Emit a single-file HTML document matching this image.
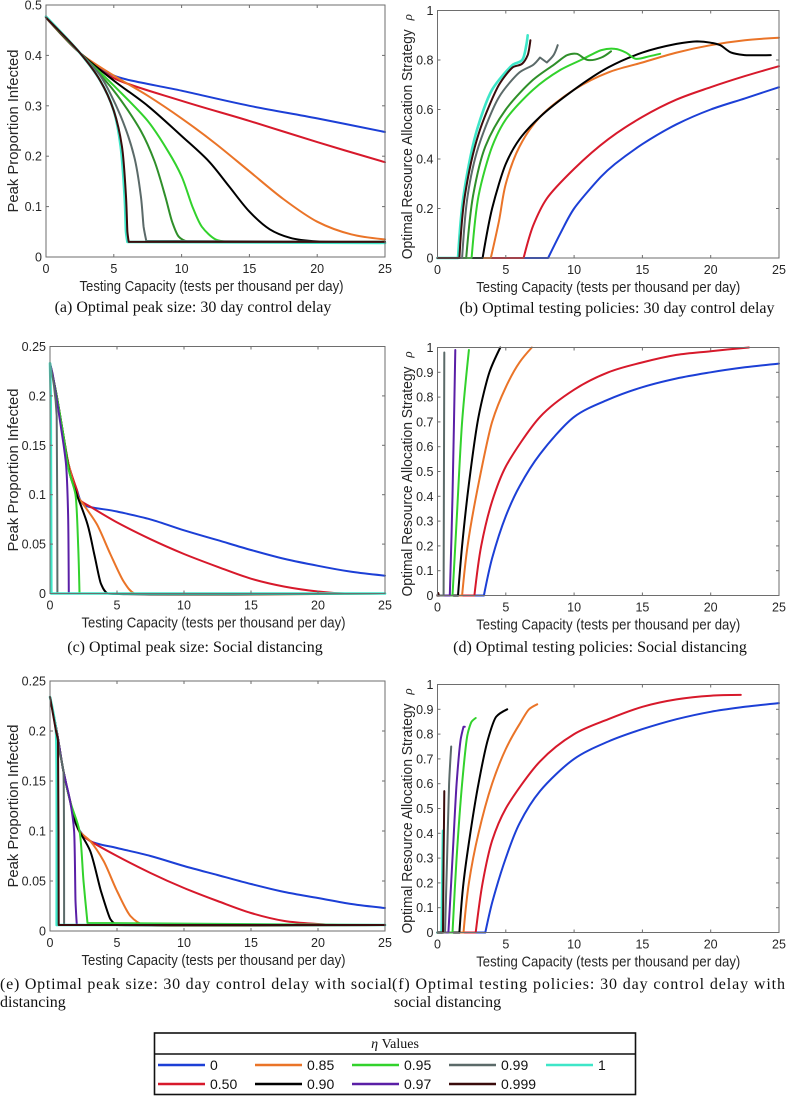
<!DOCTYPE html>
<html><head><meta charset="utf-8"><style>
html,body{margin:0;padding:0;background:#fff;}
svg{display:block;}
.tick{font-family:"Liberation Sans",sans-serif;font-size:12.5px;fill:#262626;}
.axt{font-family:"Liberation Sans",sans-serif;font-size:14.5px;fill:#262626;}
.cap{font-family:"Liberation Serif",serif;font-size:16px;fill:#111;}
.leg{font-family:"Liberation Sans",sans-serif;font-size:14px;fill:#111;}
</style></head><body>
<svg id="fig" width="787" height="1096" viewBox="0 0 787 1096" xmlns="http://www.w3.org/2000/svg"></svg>
<script>
// ---------- DATA ----------
const xTicks = [0,5,10,15,20,25];
const yTicksA = [0,0.1,0.2,0.3,0.4,0.5];
const yTicksB = [0,0.2,0.4,0.6,0.8,1];
const yTicksC = [0,0.05,0.1,0.15,0.2,0.25];
const yTicksD = [0,0.1,0.2,0.3,0.4,0.5,0.6,0.7,0.8,0.9,1];
const etaLabels = ["0","0.50","0.85","0.90","0.95","0.97","0.99","0.999","1"];

// panel (a)
const a_eta0   = [[0,.475],[2.5,.405],[5,.36],[10,.33],[15,.30],[20,.275],[25,.248]];
const a_eta50  = [[0,.475],[2.5,.405],[5,.355],[10,.31],[15,.27],[20,.228],[25,.188]];
const a_eta85  = [[0,.475],[2.5,.405],[5,.36],[7.5,.32],[10,.275],[12.5,.225],[15,.17],[17.5,.115],[20,.07],[22.5,.045],[25,.035]];
const a_eta90  = [[0,.475],[2.5,.405],[5,.35],[7.5,.3],[10,.24],[12,.19],[13.5,.14],[15,.09],[16.5,.055],[18,.038],[20,.031],[25,.03]];
const a_eta95  = [[0,.475],[2.5,.405],[5,.34],[7.5,.27],[9,.21],[10,.16],[10.8,.1],[11.5,.06],[12.5,.035],[13.5,.03],[25,.03]];
const a_eta97  = [[0,.475],[2.5,.405],[5,.33],[7,.25],[8,.19],[8.8,.12],[9.3,.07],[9.8,.04],[10.5,.03],[25,.03]];
const a_eta99  = [[0,.475],[2.5,.405],[4,.36],[5.5,.28],[6.5,.2],[7,.12],[7.2,.06],[7.4,.032],[25,.03]];
const a_eta999 = [[0,.475],[2.5,.405],[4,.35],[5,.29],[5.6,.22],[5.9,.12],[6.0,.05],[6.1,.03],[25,.03]];
const a_eta1   = [[0,.477],[2.5,.405],[4,.35],[5,.29],[5.5,.22],[5.8,.12],[5.9,.05],[6,.03],[25,.028]];

// panel (b)
const b_eta0   = [[0,0],[8.1,0],[9,.1],[10,.2],[12,.33],[13,.38],[15,.46],[17.5,.54],[20,.6],[22.5,.645],[25,.69]];
const b_eta50  = [[0,0],[6.3,0],[7,.13],[8,.24],[10,.36],[12.5,.48],[15,.57],[17.5,.64],[20,.69],[22.5,.735],[25,.775]];
const b_eta85  = [[0,0],[3.9,0],[4.5,.15],[5,.3],[6,.45],[7.5,.57],[10,.68],[12.5,.75],[15,.79],[17.5,.83],[20,.86],[22.5,.88],[25,.89]];
const b_eta90  = [[0,0],[3.3,0],[4,.2],[5,.38],[6,.48],[7.5,.57],[10,.68],[12.5,.77],[15,.83],[17.5,.865],[19,.875],[20,.87],[20.7,.86],[21.5,.83],[22.5,.82],[24.4,.82]];
const b_eta95  = [[0,0],[2.5,0],[3,.25],[4,.45],[5,.56],[7,.68],[9,.76],[10.5,.8],[12,.84],[13,.845],[13.8,.83],[14.5,.805],[15.5,.815],[16.3,.825]];
const b_eta97  = [[0,0],[2.1,0],[2.6,.25],[3.5,.45],[5,.6],[7,.72],[8.5,.78],[9.5,.82],[10.2,.825],[11,.8],[12,.81],[12.7,.835]];
const b_eta99  = [[0,0],[1.8,0],[2.2,.25],[3,.45],[4.5,.65],[6,.75],[7,.78],[7.5,.81],[8,.79],[8.5,.82],[8.8,.86]];
const b_eta999 = [[0,0],[1.6,0],[2,.25],[3,.5],[4.5,.7],[5.5,.77],[6.2,.785],[6.6,.82],[6.8,.88]];
const b_eta1   = [[0,0],[1.5,0],[1.9,.25],[2.8,.5],[4,.68],[5.5,.78],[6.2,.8],[6.5,.86],[6.6,.9]];

// panel (c)
const c_eta0   = [[0,.233],[0.5,.2],[1,.16],[1.4,.13],[2,.105],[2.5,.09],[5,.083],[7.5,.075],[10,.064],[12.5,.054],[15,.044],[17.5,.035],[20,.028],[22.5,.022],[25,.018]];
const c_eta50  = [[0,.233],[0.5,.2],[1,.16],[1.4,.13],[2,.105],[2.2,.095],[3,.088],[5,.072],[7.5,.055],[10,.04],[12.5,.027],[15,.015],[17.5,.007],[20,.002],[22,0],[25,0]];
const c_eta85  = [[0,.233],[0.5,.2],[1,.16],[1.4,.13],[2,.1],[2.5,.09],[3.5,.07],[4.5,.04],[5.5,.012],[6.3,0],[25,0]];
const c_eta90  = [[0,.233],[0.5,.2],[1,.16],[1.5,.12],[2,.1],[2.8,.07],[3.3,.04],[3.8,.01],[4.3,0],[25,0]];
const c_eta95  = [[0,.233],[0.5,.2],[1,.16],[1.4,.125],[1.9,.1],[2.1,.05],[2.2,0],[25,0]];
const c_eta97  = [[0,.233],[0.2,.222],[0.8,.17],[1.2,.13],[1.35,.08],[1.4,0],[25,0]];
const c_eta99  = [[0,.233],[0.3,.21],[0.5,.18],[0.55,0],[25,0]];
const c_eta1   = [[0,.233],[0.05,.2],[0.1,0],[25,0]];

// panel (d)
const d_eta0   = [[0,0],[3.4,0],[4,.15],[5,.32],[6,.44],[7.5,.57],[10,.72],[12.5,.79],[15,.84],[17.5,.875],[20,.9],[22.5,.92],[25,.935]];
const d_eta50  = [[0,0],[2.7,0],[3.2,.2],[4,.38],[5,.52],[7.5,.72],[10,.83],[12.5,.9],[15,.94],[17.5,.97],[20,.985],[22.8,1]];
const d_eta85  = [[0,0],[1.8,0],[2.2,.2],[3,.45],[4,.7],[5,.84],[6,.94],[6.9,1]];
const d_eta90  = [[0,0],[1.5,0],[1.8,.2],[2.3,.45],[3,.72],[3.8,.9],[4.6,1]];
const d_eta95  = [[0,0],[1.1,0],[1.4,.3],[1.8,.7],[2.3,.99]];
const d_eta97  = [[0,0],[0.9,0],[1.1,.4],[1.3,.99]];
const d_eta99  = [[0,0],[0.45,0],[0.5,.98]];
const d_eta999 = [[0,0],[0.05,.01],[0.1,0]];

// panel (e)
const e_eta0   = [[0,.234],[0.5,.2],[1,.16],[1.5,.13],[2,.105],[3,.09],[5,.083],[7.5,.075],[10,.065],[12.5,.056],[15,.047],[17.5,.039],[20,.033],[22.5,.027],[25,.023]];
const e_eta50  = [[0,.234],[0.5,.2],[1,.16],[1.5,.13],[2,.105],[2.3,.097],[3,.09],[5,.075],[7.5,.058],[10,.043],[12.5,.03],[15,.018],[17.5,.01],[20,.007],[21.5,.006],[25,.006]];
const e_eta85  = [[0,.234],[0.5,.2],[1,.16],[1.5,.13],[2.2,.1],[3,.09],[4,.07],[5,.04],[6,.015],[7,.006],[25,.006]];
const e_eta90  = [[0,.234],[0.5,.2],[1,.16],[1.5,.13],[2,.105],[3,.08],[3.8,.04],[4.5,.012],[5,.006],[25,.006]];
const e_eta95  = [[0,.234],[0.5,.2],[1,.16],[1.5,.13],[2.2,.1],[2.5,.05],[2.8,.008],[25,.006]];
const e_eta97  = [[0,.234],[0.5,.2],[1,.16],[1.5,.13],[1.8,.1],[1.9,.03],[2,.006],[25,.006]];
const e_eta99  = [[0,.234],[0.5,.2],[0.7,.18],[1,.16],[1.05,.006],[25,.006]];
const e_eta999 = [[0,.234],[0.45,.2],[0.6,.19],[0.65,.006],[25,.006]];
const e_eta1   = [[0,.234],[0.45,.2],[0.5,.006],[25,.006]];

// panel (f)
const f_eta0   = [[0,0],[3.5,0],[4,.12],[5,.3],[6,.44],[7.5,.57],[10,.7],[12.5,.77],[15,.82],[17.5,.86],[20,.89],[22.5,.91],[25,.925]];
const f_eta50  = [[0,0],[2.8,0],[3.3,.2],[4,.37],[5,.5],[7.5,.69],[10,.8],[12.5,.86],[15,.91],[17.5,.94],[20,.955],[22.2,.958]];
const f_eta85  = [[0,0],[1.9,0],[2.3,.2],[3,.4],[4,.6],[5,.74],[6,.84],[6.7,.9],[7.3,.92]];
const f_eta90  = [[0,0],[1.6,0],[1.9,.2],[2.4,.4],[3,.6],[3.7,.78],[4.3,.87],[5.1,.9]];
const f_eta95  = [[0,0],[1.1,0],[1.4,.3],[1.8,.6],[2.2,.8],[2.5,.85],[2.8,.865]];
const f_eta97  = [[0,0],[0.8,0],[1.1,.3],[1.4,.6],[1.7,.78],[1.9,.83],[2,.83]];
const f_eta99  = [[0,0],[0.55,0],[0.7,.3],[0.85,.6],[1,.75]];
const f_eta999 = [[0,0],[0.4,0],[0.45,.3],[0.5,.57]];
const f_eta1   = [[0,0],[0.3,0],[0.4,.41]];

// ---------- STYLE ----------
const COL = {"0":"#1c3fd6","0.50":"#d7192b","0.85":"#ea7428","0.90":"#000000","0.95":"#32d22c","0.97":"#5a1fa6","0.99":"#5b6a69","0.999":"#3a0c0c","1":"#3ee6c8"};
const NS = "http://www.w3.org/2000/svg";
const svg = document.getElementById('fig');
function mk(tag, attrs, parent){const e=document.createElementNS(NS,tag);for(const k in attrs)e.setAttribute(k,attrs[k]);(parent||svg).appendChild(e);return e;}

// bounded smoothing: handle length = min(adjacent segments)/3, sharp corners kept
function smoothPath(P){
  const n=P.length;
  const f=v=>v.toFixed(1);
  let d='M'+f(P[0][0])+','+f(P[0][1]);
  if(n<3){for(let i=1;i<n;i++)d+=' L'+f(P[i][0])+','+f(P[i][1]);return d;}
  const seg=[];
  for(let i=0;i<n-1;i++)seg.push(Math.hypot(P[i+1][0]-P[i][0],P[i+1][1]-P[i][1])||1e-6);
  const dir=[], hl=[];
  for(let i=0;i<n;i++){
    if(i===0||i===n-1){dir.push(null);hl.push(0);continue;}
    const ax=P[i][0]-P[i-1][0], ay=P[i][1]-P[i-1][1];
    const bx=P[i+1][0]-P[i][0], by=P[i+1][1]-P[i][1];
    const la=seg[i-1], lb=seg[i];
    const cos=(ax*bx+ay*by)/(la*lb);
    if(cos<0.5){dir.push(null);hl.push(0);continue;}
    let dx=ax/la+bx/lb, dy=ay/la+by/lb; const l=Math.hypot(dx,dy)||1;
    dir.push([dx/l,dy/l]);
    hl.push(Math.min(la,lb)/3);
  }
  for(let i=0;i<n-1;i++){
    const p1=P[i],p2=P[i+1];
    const c1=dir[i]?[p1[0]+dir[i][0]*hl[i],p1[1]+dir[i][1]*hl[i]]:p1;
    const c2=dir[i+1]?[p2[0]-dir[i+1][0]*hl[i+1],p2[1]-dir[i+1][1]*hl[i+1]]:p2;
    d+=' C'+f(c1[0])+','+f(c1[1])+' '+f(c2[0])+','+f(c2[1])+' '+f(p2[0])+','+f(p2[1]);
  }
  return d;
}

function panel(id, box, ymax, yTicks, ylabel, series, darkGreen97){
  const g = mk('g',{});
  
  
  const sx = v => box.x0 + (v/25)*(box.x1-box.x0);
  const sy = v => box.y1 - (v/ymax)*(box.y1-box.y0);
  const order = ["0","0.50","0.85","0.90","0.95","0.97","0.99","1","0.999"];
  order.forEach(k=>{
    const pts = series[k]; if(!pts) return;
    let col = COL[k];
    if(k==="0.97" && darkGreen97) col="#2f8f2a";
    const pl = mk('path',{d:smoothPath(pts.map(p=>[sx(p[0]),sy(p[1])])),fill:'none',stroke:col,'stroke-width':(k==="1"?2.6:2),'stroke-linejoin':'round','stroke-linecap':'round'},g);
    
    
  });
  const bx = mk('rect',{x:box.x0,y:box.y0,width:box.x1-box.x0,height:box.y1-box.y0,fill:'none',stroke:'#6e6e6e','stroke-width':1},g);
  
  
  xTicks.forEach(t=>{
    const x=sx(t);
    mk('line',{x1:x,x2:x,y1:box.y1,y2:box.y1-3,stroke:'#6e6e6e'},g);
    mk('line',{x1:x,x2:x,y1:box.y0,y2:box.y0+3,stroke:'#6e6e6e'},g);
    const tx = mk('text',{x:x,y:box.y1+16,'text-anchor':'middle',class:'tick'},g);
    tx.textContent=t;
    
    
  });
  yTicks.forEach(t=>{
    const y=sy(t);
    mk('line',{x1:box.x0,x2:box.x0+3,y1:y,y2:y,stroke:'#6e6e6e'},g);
    mk('line',{x1:box.x1,x2:box.x1-3,y1:y,y2:y,stroke:'#6e6e6e'},g);
    const ty = mk('text',{x:box.x0-4,y:y+4.5,'text-anchor':'end',class:'tick'},g);
    ty.textContent=t;
    
    
  });
  const xt = mk('text',{x:(box.x0+box.x1)/2+ (box.x0<100? -4:0),y:box.y1+34,'text-anchor':'middle',class:'axt',textLength:264,lengthAdjust:'spacingAndGlyphs'},g);
  xt.textContent='Testing Capacity (tests per thousand per day)';
  
  
  const cy=(box.y0+box.y1)/2;
  const yt = mk('text',{x:0,y:0,'text-anchor':'middle',class:'axt',transform:`translate(${ylabel.x},${cy}) rotate(-90)`},g);
  
  
  if(ylabel.rho){
    yt.setAttribute('textLength', 230);
    yt.setAttribute('lengthAdjust','spacingAndGlyphs');
    yt.setAttribute('transform',`translate(${ylabel.x},${cy+10}) rotate(-90)`);
    yt.textContent='Optimal Resource Allocation Strategy';
    const r = mk('text',{x:0,y:0,'text-anchor':'middle',transform:`translate(${ylabel.x},${cy-117}) rotate(-90)`,style:'font-family:"Liberation Serif",serif;font-style:italic;font-size:13px;fill:#262626'},g);
    r.textContent='ρ';
    
    
  } else {
    yt.setAttribute('textLength', 163);
    yt.setAttribute('lengthAdjust','spacingAndGlyphs');
    yt.textContent='Peak Proportion Infected';
  }
}

panel('a',{x0:46,x1:385,y0:5,y1:257},0.5,yTicksA,{x:18},
  {"0":a_eta0,"0.50":a_eta50,"0.85":a_eta85,"0.90":a_eta90,"0.95":a_eta95,"0.97":a_eta97,"0.99":a_eta99,"0.999":a_eta999,"1":a_eta1},true);
panel('b',{x0:437.5,x1:779,y0:10.5,y1:258},1,yTicksB,{x:412,rho:true},
  {"0":b_eta0,"0.50":b_eta50,"0.85":b_eta85,"0.90":b_eta90,"0.95":b_eta95,"0.97":b_eta97,"0.99":b_eta99,"0.999":b_eta999,"1":b_eta1},true);
panel('c',{x0:50,x1:385,y0:346.5,y1:593.5},0.25,yTicksC,{x:18},
  {"0":c_eta0,"0.50":c_eta50,"0.85":c_eta85,"0.90":c_eta90,"0.95":c_eta95,"0.97":c_eta97,"0.99":c_eta99,"1":c_eta1},false);
panel('d',{x0:437.5,x1:779,y0:347.5,y1:595.5},1,yTicksD,{x:412,rho:true},
  {"0":d_eta0,"0.50":d_eta50,"0.85":d_eta85,"0.90":d_eta90,"0.95":d_eta95,"0.97":d_eta97,"0.99":d_eta99,"0.999":d_eta999},false);
panel('e',{x0:50,x1:385,y0:681,y1:931},0.25,yTicksC,{x:18},
  {"0":e_eta0,"0.50":e_eta50,"0.85":e_eta85,"0.90":e_eta90,"0.95":e_eta95,"0.97":e_eta97,"0.99":e_eta99,"0.999":e_eta999,"1":e_eta1},false);
panel('f',{x0:437.5,x1:779,y0:684.5,y1:932.5},1,yTicksD,{x:412,rho:true},
  {"0":f_eta0,"0.50":f_eta50,"0.85":f_eta85,"0.90":f_eta90,"0.95":f_eta95,"0.97":f_eta97,"0.99":f_eta99,"0.999":f_eta999,"1":f_eta1},false);

function cap(txt,x,y,anchor,len,name){
  const t=mk('text',{x:x,y:y,'text-anchor':anchor,class:'cap'});
  if(len){t.setAttribute('textLength',len);t.setAttribute('lengthAdjust','spacing');}
  t.textContent=txt;
  
  
}
cap('(a) Optimal peak size: 30 day control delay',193,312,'middle',0,'caption-a');
cap('(b) Optimal testing policies: 30 day control delay',617,313,'middle',0,'caption-b');
cap('(c) Optimal peak size: Social distancing',195,652,'middle',0,'caption-c');
cap('(d) Optimal testing policies: Social distancing',600,652,'middle',0,'caption-d');
cap('(e) Optimal peak size: 30 day control delay with social',0,989,'start',392,'caption-e-line1');
cap('distancing',0,1007,'start',0,'caption-e-line2');
cap('(f) Optimal testing policies: 30 day control delay with',392,989,'start',393,'caption-f-line1');
cap('social distancing',394,1007,'start',0,'caption-f-line2');

const lg = mk('g',{});


mk('rect',{x:154.5,y:1033,width:481,height:61.5,fill:'#fff',stroke:'#111','stroke-width':1.6},lg);
mk('line',{x1:154.5,x2:635.5,y1:1054,y2:1054,stroke:'#111','stroke-width':1.4},lg);
const lt = mk('text',{x:395,y:1048,'text-anchor':'middle',class:'cap',style:'font-size:14px'},lg);
lt.innerHTML='<tspan font-style="italic">η</tspan> Values';


const legOrder = [["0","0.85","0.95","0.99","1"],["0.50","0.90","0.97","0.999"]];
legOrder.forEach((row,ri)=>{
  row.forEach((k,ci)=>{
    const x = 158 + ci*97, y = ri===0?1065:1084;
    const e = mk('g',{},lg);
    
    
    mk('line',{x1:x,x2:x+47,y1:y,y2:y,stroke:COL[k],'stroke-width':2.5},e);
    const t = mk('text',{x:x+52,y:y+5,class:'leg'},e);
    t.textContent=k;
  });
});
</script>
</body></html>
